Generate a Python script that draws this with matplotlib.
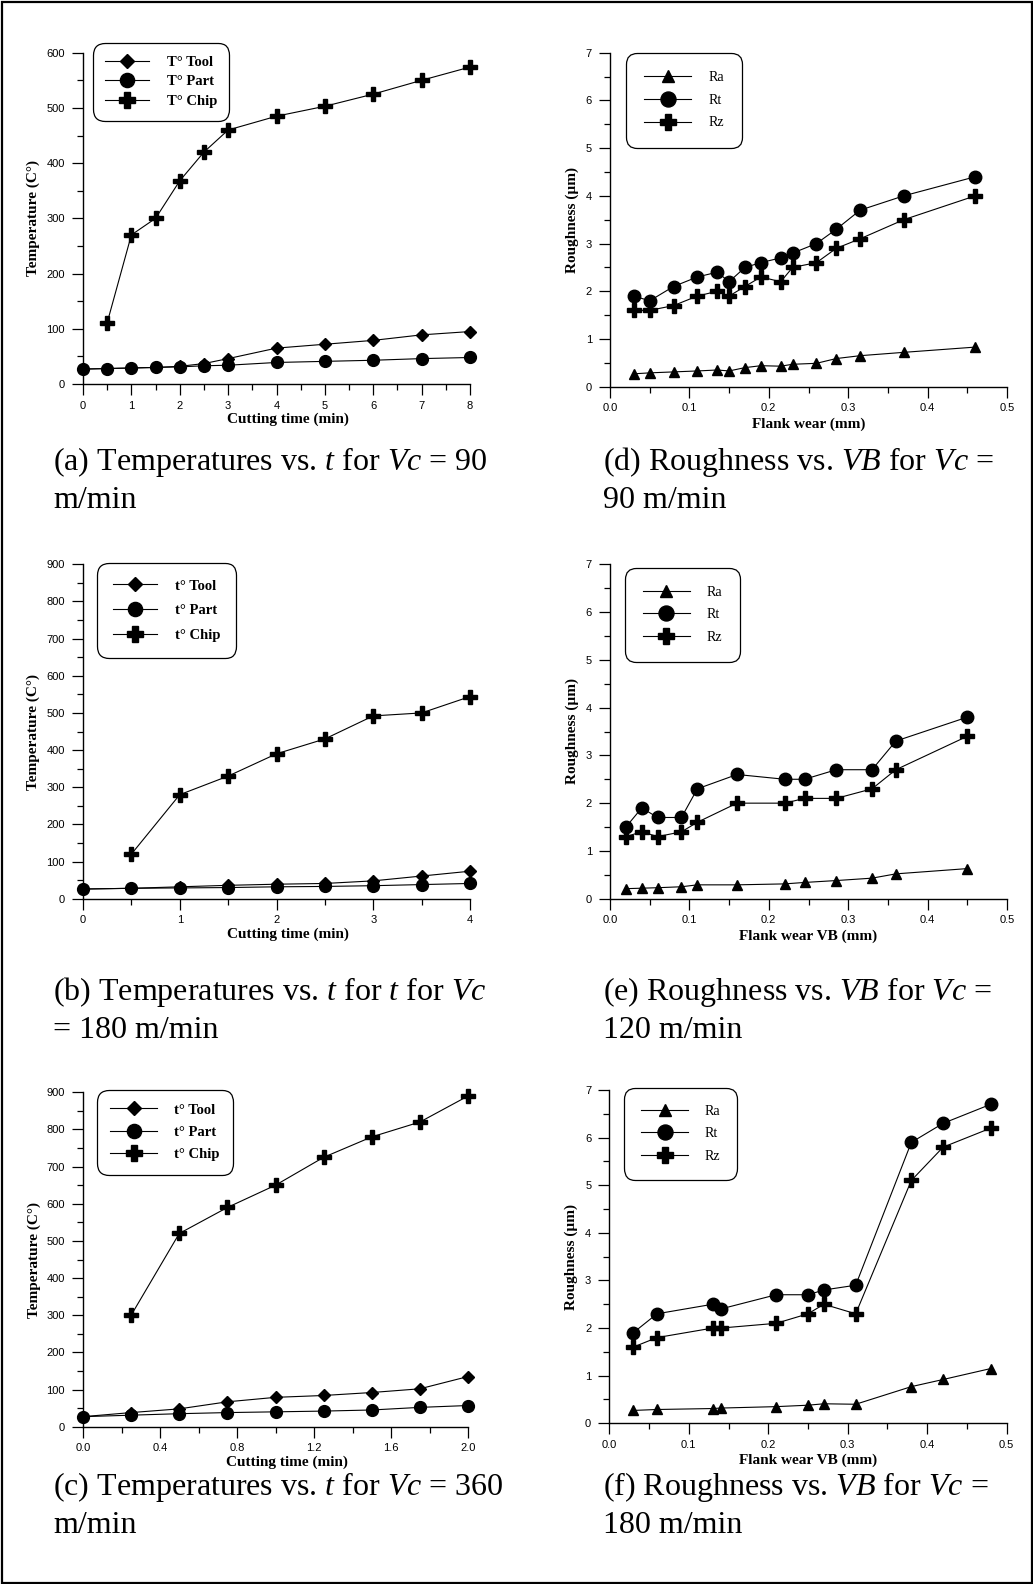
import matplotlib
matplotlib.use('Agg')
import matplotlib.pyplot as plt
from matplotlib.ticker import MultipleLocator, FormatStrFormatter
from matplotlib.patches import Rectangle

plt.rcParams['mathtext.fontset'] = 'custom'
plt.rcParams['mathtext.rm'] = 'Liberation Serif'
plt.rcParams['mathtext.it'] = 'Liberation Serif:italic'
plt.rcParams['font.family'] = 'Liberation Sans'

# temperatures, Vc = 90 m/min
a_time = [0, 0.5, 1, 1.5, 2, 2.5, 3, 4, 5, 6, 7, 8]
a_tool = [27, 28, 29, 30, 32, 37, 46, 65, 72, 79, 89, 95]
a_part = [27, 28, 29, 30, 31, 33, 34, 39, 41, 43, 46, 48]
a_chip_time = [0.5, 1, 1.5, 2, 2.5, 3, 4, 5, 6, 7, 8]
a_chip = [111, 270, 300, 368, 420, 460, 485, 503, 525, 550, 574]

# temperatures, Vc = 180 m/min
b_time = [0, 0.5, 1, 1.5, 2, 2.5, 3, 3.5, 4]
b_tool = [26, 28, 32, 36, 39, 41, 48, 61, 74]
b_part = [26, 28, 29, 30, 32, 33, 35, 38, 41]
b_chip_time = [0.5, 1, 1.5, 2, 2.5, 3, 3.5, 4]
b_chip = [120, 280, 330, 390, 430, 492, 500, 544]

# temperatures, Vc = 360 m/min
c_time = [0, 0.25, 0.5, 0.75, 1.0, 1.25, 1.5, 1.75, 2.0]
c_tool = [27, 38, 48, 67, 79, 84, 92, 102, 135]
c_part = [27, 31, 35, 38, 40, 42, 45, 52, 57]
c_chip_time = [0.25, 0.5, 0.75, 1.0, 1.25, 1.5, 1.75, 2.0]
c_chip = [300, 520, 590, 650, 725, 780, 820, 890]

# roughness vs flank wear, Vc = 90
d_wear = [0.03, 0.05, 0.08, 0.11, 0.135, 0.15, 0.17, 0.19, 0.215, 0.23, 0.26, 0.285, 0.315, 0.37, 0.46]
d_ra = [0.27, 0.29, 0.31, 0.33, 0.35, 0.33, 0.40, 0.44, 0.43, 0.47, 0.49, 0.59, 0.65, 0.72, 0.83]
d_rt = [1.9, 1.8, 2.1, 2.3, 2.4, 2.2, 2.5, 2.6, 2.7, 2.8, 3.0, 3.3, 3.7, 4.0, 4.4]
d_rz = [1.6, 1.6, 1.7, 1.9, 2.0, 1.9, 2.1, 2.3, 2.2, 2.5, 2.6, 2.9, 3.1, 3.5, 4.0]

# roughness vs flank wear, Vc = 120
e_wear = [0.02, 0.04, 0.06, 0.09, 0.11, 0.16, 0.22, 0.245, 0.285, 0.33, 0.36, 0.45]
e_ra = [0.21, 0.22, 0.23, 0.25, 0.29, 0.29, 0.31, 0.34, 0.38, 0.43, 0.52, 0.63]
e_rt = [1.5, 1.9, 1.7, 1.7, 2.3, 2.6, 2.5, 2.5, 2.7, 2.7, 3.3, 3.8]
e_rz = [1.3, 1.4, 1.3, 1.4, 1.6, 2.0, 2.0, 2.1, 2.1, 2.3, 2.7, 3.4]

# roughness vs flank wear, Vc = 180
f_wear = [0.03, 0.06, 0.13, 0.14, 0.21, 0.25, 0.27, 0.31, 0.38, 0.42, 0.48]
f_ra = [0.27, 0.29, 0.31, 0.32, 0.35, 0.38, 0.41, 0.40, 0.77, 0.92, 1.15]
f_rt = [1.9, 2.3, 2.5, 2.4, 2.7, 2.7, 2.8, 2.9, 5.9, 6.3, 6.7]
f_rz = [1.6, 1.8, 2.0, 2.0, 2.1, 2.3, 2.5, 2.3, 5.1, 5.8, 6.2]

temp_labels_a = ['T° Tool', 'T° Part', 'T° Chip']
temp_labels = ['t° Tool', 't° Part', 't° Chip']
rough_labels = ['Ra', 'Rt', 'Rz']

W, H = 1033, 1584
fig = plt.figure(figsize=(W / 100, H / 100), dpi=100)

SERIF = 'Liberation Serif'


def axes_px(left, top, right, bottom):
    return fig.add_axes([left / W, 1 - bottom / H, (right - left) / W, (bottom - top) / H])


def style_axes(ax, xmax, xmaj, xmin, ymax, ymaj, ymin, xfmt, xlabel, ylabel, xlab_x, xlab_y, ylab_x):
    ax.set_xlim(0, xmax)
    ax.set_ylim(0, ymax)
    for s in ('top', 'right'):
        ax.spines[s].set_visible(False)
    for s in ('left', 'bottom'):
        ax.spines[s].set_linewidth(1.0)
    ax.xaxis.set_major_locator(MultipleLocator(xmaj))
    ax.xaxis.set_minor_locator(MultipleLocator(xmin))
    ax.yaxis.set_major_locator(MultipleLocator(ymaj))
    ax.yaxis.set_minor_locator(MultipleLocator(ymin))
    ax.xaxis.set_major_formatter(FormatStrFormatter(xfmt))
    ax.tick_params(which='major', direction='out', length=8, width=0.9, labelsize=8)
    ax.tick_params(which='minor', direction='out', length=4.5, width=0.9)
    ax.tick_params(axis='x', which='major', pad=4)
    ax.tick_params(axis='y', which='major', pad=5)
    ax.set_xlabel(xlabel, family=SERIF, weight='bold', fontsize=11)
    ax.set_ylabel(ylabel, family=SERIF, weight='bold', fontsize=11)
    ax.xaxis.set_label_coords(xlab_x, xlab_y)
    ax.yaxis.set_label_coords(ylab_x, 0.5)


def add_legend(ax, anchor, size, weight, spacing, pad, hlen, mscale):
    leg = ax.legend(loc='upper left', bbox_to_anchor=anchor, borderaxespad=0,
                    prop={'family': SERIF, 'weight': weight, 'size': size},
                    frameon=True, fancybox=True, framealpha=1, edgecolor='black',
                    handlelength=hlen, handletextpad=1.2, labelspacing=spacing,
                    borderpad=pad, markerscale=mscale)
    frame = leg.get_frame()
    frame.set_linewidth(0.9)
    frame.set_boxstyle('round,pad=0,rounding_size=0.8')
    return leg


def draw_temps(ax, time, tool, part, chip_time, chip, labels):
    kw = dict(color='black', lw=0.8, clip_on=False)
    ax.plot(time, tool, marker='D', ms=6, label=labels[0], **kw)
    ax.plot(time, part, marker='o', ms=8.5, label=labels[1], **kw)
    ax.plot(chip_time, chip, marker='P', ms=9.5, label=labels[2], **kw)


def draw_rough(ax, wear, ra, rt, rz):
    kw = dict(color='black', lw=0.8, clip_on=False)
    ax.plot(wear, ra, marker='^', ms=7.5, label=rough_labels[0], **kw)
    ax.plot(wear, rt, marker='o', ms=9, label=rough_labels[1], **kw)
    ax.plot(wear, rz, marker='P', ms=9.5, label=rough_labels[2], **kw)


# (a)
ax = axes_px(83, 52.7, 470, 384)
draw_temps(ax, a_time, a_tool, a_part, a_chip_time, a_chip, temp_labels_a)
style_axes(ax, 8, 1, 0.5, 600, 100, 50, '%d', 'Cutting time (min)', 'Temperature (C°)',
           0.53, -0.085, -0.11)
add_legend(ax, (0.026, 1.029), 10.5, 'bold', 0.45, 0.85, 3.0, 1.2)

# (d)
ax = axes_px(610, 52.7, 1007, 386.7)
draw_rough(ax, d_wear, d_ra, d_rt, d_rz)
style_axes(ax, 0.5, 0.1, 0.05, 7, 1, 0.5, '%.1f', 'Flank wear (mm)', 'Roughness (µm)',
           0.5, -0.092, -0.078)
add_legend(ax, (0.040, 1.0), 10, 'normal', 0.7, 1.32, 3.4, 1.2)

# (b)
ax = axes_px(83, 564.3, 470, 898.7)
draw_temps(ax, b_time, b_tool, b_part, b_chip_time, b_chip, temp_labels)
style_axes(ax, 4, 1, 0.5, 900, 100, 50, '%d', 'Cutting time (min)', 'Temperature (C°)',
           0.53, -0.085, -0.11)
add_legend(ax, (0.036, 1.004), 10.5, 'bold', 0.78, 1.12, 3.0, 1.2)

# (e)
ax = axes_px(610, 564.3, 1007, 898.7)
draw_rough(ax, e_wear, e_ra, e_rt, e_rz)
style_axes(ax, 0.5, 0.1, 0.05, 7, 1, 0.5, '%.1f', 'Flank wear VB (mm)', 'Roughness (µm)',
           0.5, -0.092, -0.078)
add_legend(ax, (0.038, 0.989), 10, 'normal', 0.69, 1.28, 3.4, 1.2)

# (c)
ax = axes_px(83, 1092.3, 468, 1426.7)
draw_temps(ax, c_time, c_tool, c_part, c_chip_time, c_chip, temp_labels)
style_axes(ax, 2.0, 0.4, 0.2, 900, 100, 50, '%.1f', 'Cutting time (min)', 'Temperature (C°)',
           0.53, -0.085, -0.11)
add_legend(ax, (0.036, 1.007), 10.5, 'bold', 0.62, 0.92, 3.2, 1.2)

# (f)
ax = axes_px(609.3, 1090, 1006.7, 1423.3)
draw_rough(ax, f_wear, f_ra, f_rt, f_rz)
style_axes(ax, 0.5, 0.1, 0.05, 7, 1, 0.5, '%.1f', 'Flank wear VB (mm)', 'Roughness (µm)',
           0.5, -0.092, -0.078)
add_legend(ax, (0.037, 1.006), 10, 'normal', 0.67, 1.22, 3.4, 1.2)

# sub-figure captions
captions = [
    (53, 470, '(a) Temperatures vs. $t$ for $Vc$ = 90', 'm/min'),
    (603, 470, '(d) Roughness vs. $VB$ for $Vc$ =', '90 m/min'),
    (53, 1000, '(b) Temperatures vs. $t$ for $t$ for $Vc$', '= 180 m/min'),
    (603, 1000, '(e) Roughness vs. $VB$ for $Vc$ =', '120 m/min'),
    (53, 1495, '(c) Temperatures vs. $t$ for $Vc$ = 360', 'm/min'),
    (603, 1495, '(f) Roughness vs. $VB$ for $Vc$ =', '180 m/min'),
]
for x, y, line1, line2 in captions:
    fig.text(x / W, 1 - y / H, line1, family=SERIF, fontsize=23, va='baseline', ha='left')
    fig.text(x / W, 1 - (y + 38) / H, line2, family=SERIF, fontsize=23, va='baseline', ha='left')

# outer frame
fig.add_artist(Rectangle((1.5 / W, 1.5 / H), (W - 3) / W, (H - 3) / H,
                         transform=fig.transFigure, fill=False, lw=1.6, ec='black'))

fig.savefig('out.png', dpi=100)
